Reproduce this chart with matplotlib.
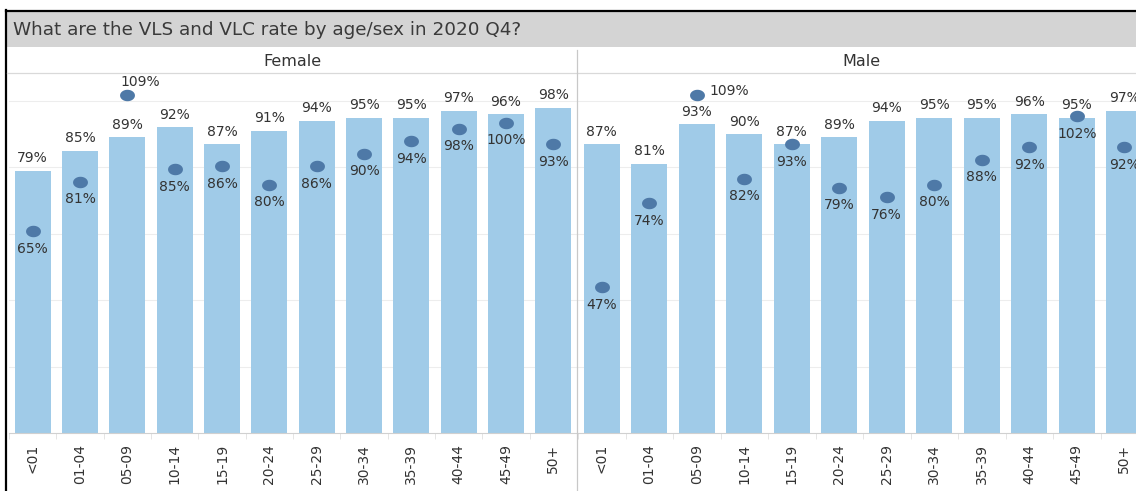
import matplotlib
matplotlib.use('Agg')
import numpy as np
import matplotlib.pyplot as plt
from matplotlib.patches import Rectangle
from matplotlib.lines import Line2D
from matplotlib.path import Path

age_groups = ['<01', '01-04', '05-09', '10-14', '15-19', '20-24',
              '25-29', '30-34', '35-39', '40-44', '45-49', '50+']
# bars = VLC, dots = VLS (percent)
female_vlc = [79, 85, 89, 92, 87, 91, 94, 95, 95, 97, 96, 98]
female_vls = [65, 81, 109, 85, 86, 80, 86, 90, 94, 98, 100, 93]
male_vlc = [87, 81, 93, 90, 87, 89, 94, 95, 95, 96, 95, 97]
male_vls = [47, 74, 109, 82, 93, 79, 76, 80, 88, 92, 102, 92]

W, H = 1136, 491
BAR_COLOR = '#a0cbe8'
DOT_COLOR = '#4e79a7'
TEXT_COLOR = '#333333'

# the screenshot is a bit stretched sideways, so the dots are ellipses
t = np.linspace(0, 2 * np.pi, 60)
ellipse = Path(np.column_stack([1.3 * np.cos(t), np.sin(t)]), closed=True)

fig = plt.figure(figsize=(W / 100, H / 100), dpi=100)


def rect(x0, y0, x1, y1):
    # pixel box (top-left origin) -> figure fraction
    return [x0 / W, 1 - y1 / H, (x1 - x0) / W, (y1 - y0) / H]


# title bar + frame
fig.add_artist(Rectangle((7 / W, 1 - 47 / H), (W - 7) / W, 35 / H,
                         transform=fig.transFigure, color='#d4d4d4', lw=0))
fig.text(13 / W, 1 - 30 / H, 'What are the VLS and VLC rate by age/sex in 2020 Q4?',
         ha='left', va='center', fontsize=13.2, color='#3a3a3a')
fig.add_artist(Line2D([6 / W, 6 / W], [0, 1 - 10 / H], transform=fig.transFigure,
                      color='black', lw=1.6))
fig.add_artist(Line2D([6 / W, 1], [1 - 10.5 / H, 1 - 10.5 / H], transform=fig.transFigure,
                      color='black', lw=1.6))

# header row lines
fig.add_artist(Line2D([7 / W, 1], [1 - 73 / H, 1 - 73 / H], transform=fig.transFigure,
                      color='#d9d9d9', lw=0.9))
fig.add_artist(Line2D([577 / W, 577 / W], [0, 1 - 50 / H], transform=fig.transFigure,
                      color='#c8c8c8', lw=0.9))

panels = [
    ('Female', female_vlc, female_vls, 9, 577, 292, (-5, 4), 'bottom'),
    ('Male', male_vlc, male_vls, 578, 1148, 861, (9, 3), 'center'),
]

x = list(range(len(age_groups)))
for name, vlc, vls, left, right, head_x, off109, va109 in panels:
    fig.text(head_x / W, 1 - 61 / H, name,
             ha='center', va='center', fontsize=11.5, color=TEXT_COLOR)

    ax = fig.add_axes(rect(left, 73, right, 433))
    ax.bar(x, vlc, width=0.76, color=BAR_COLOR, zorder=2)
    ax.set_xlim(-0.5, len(age_groups) - 0.5)
    ax.set_ylim(0, 108.4)
    ax.set_yticks([20, 40, 60, 80, 100])
    ax.yaxis.grid(True, color='#ededed', lw=0.8, zorder=0)
    ax.tick_params(axis='y', length=0, labelleft=False)
    for s in ['top', 'left', 'right']:
        ax.spines[s].set_visible(False)
    ax.spines['bottom'].set_color('#d0d0d0')
    ax.set_xticks(x)
    ax.set_xticklabels(age_groups, rotation=90, fontsize=10, color=TEXT_COLOR, va='top')
    ax.set_xticks([i - 0.5 for i in range(len(age_groups) + 1)], minor=True)
    ax.tick_params(axis='x', which='major', length=0, pad=8)
    ax.tick_params(axis='x', which='minor', length=4, color='#e0e0e0')

    for i, v in enumerate(vlc):
        ax.annotate(f'{v}%', (i, v), xytext=(0, 4), textcoords='offset points',
                    ha='center', va='bottom', fontsize=10, color=TEXT_COLOR)

    ax2 = ax.twinx()
    ax2.set_ylim(0, 116)
    ax2.set_xlim(-0.5, len(age_groups) - 0.5)
    ax2.axis('off')
    ax2.scatter(x, vls, s=115, marker=ellipse, color=DOT_COLOR, zorder=3, lw=0)
    for i, v in enumerate(vls):
        if v > 105:
            ax2.annotate(f'{v}%', (i, v), xytext=off109, textcoords='offset points',
                         ha='left', va=va109, fontsize=10, color=TEXT_COLOR)
        else:
            ax2.annotate(f'{v}%', (i, v), xytext=(0, -7.5), textcoords='offset points',
                         ha='center', va='top', fontsize=10, color=TEXT_COLOR)

fig.savefig('out.png', dpi=100)
